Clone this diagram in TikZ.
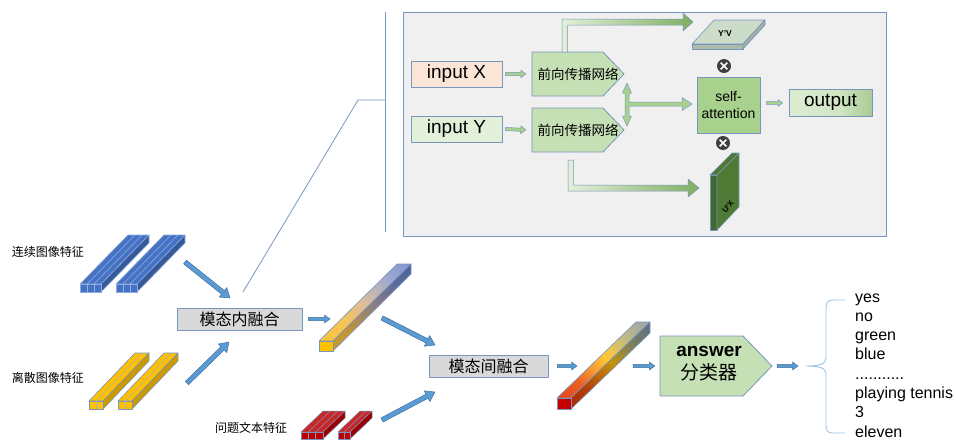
\documentclass[tikz,border=0pt]{standalone}
\usepackage{fontspec}
\setmainfont{Liberation Sans}
\newfontfamily\cjk{Noto Sans CJK SC}
\usetikzlibrary{calc}

\definecolor{edgeblue}{HTML}{7895C0}
\definecolor{panelgray}{HTML}{F0F0F0}
\definecolor{peach}{HTML}{FBE5D6}
\definecolor{palegreen}{HTML}{E2F0D9}
\definecolor{midgreen}{HTML}{C5E0B4}
\definecolor{attgreen}{HTML}{A9D18E}
\definecolor{arrowgreen}{HTML}{7FAE62}
\definecolor{arrowblue}{HTML}{5B9BD5}
\definecolor{arrowedge}{HTML}{41719C}
\definecolor{barblue}{HTML}{4472C4}
\definecolor{baryellow}{HTML}{FFC000}
\definecolor{barred}{HTML}{C00000}
\definecolor{boxgray}{HTML}{D9D9D9}
\definecolor{bracecol}{HTML}{9DC3E6}
\definecolor{slabgray}{HTML}{CBDCC8}
\definecolor{slabdark}{HTML}{4F7A35}
\definecolor{knotgray}{HTML}{3F3F3F}

% colour ramps for the fused feature bars and the output box
\pgfdeclarehorizontalshading{fuseonetop}{100bp}{rgb(0bp)=(0.98,0.76,0.18); rgb(30bp)=(0.97,0.77,0.30); rgb(50bp)=(0.87,0.74,0.62); rgb(70bp)=(0.62,0.66,0.82); rgb(100bp)=(0.40,0.52,0.80)}
\pgfdeclarehorizontalshading{fuseoneside}{100bp}{rgb(0bp)=(0.82,0.62,0.12); rgb(30bp)=(0.76,0.58,0.22); rgb(50bp)=(0.56,0.50,0.50); rgb(70bp)=(0.36,0.42,0.60); rgb(100bp)=(0.22,0.36,0.64)}
\pgfdeclarehorizontalshading{fusetwotop}{100bp}{rgb(0bp)=(0.86,0.16,0.06); rgb(30bp)=(0.92,0.38,0.14); rgb(40bp)=(0.96,0.58,0.20); rgb(52bp)=(1.0,0.79,0.20); rgb(68bp)=(0.76,0.73,0.52); rgb(100bp)=(0.45,0.56,0.80)}
\pgfdeclarehorizontalshading{fusetwoside}{100bp}{rgb(0bp)=(0.62,0.08,0.0); rgb(30bp)=(0.70,0.25,0.03); rgb(40bp)=(0.74,0.40,0.04); rgb(52bp)=(0.76,0.58,0.05); rgb(68bp)=(0.48,0.50,0.38); rgb(100bp)=(0.25,0.38,0.62)}
\pgfdeclarehorizontalshading{outshade}{100bp}{rgb(0bp)=(0.90,0.95,0.87); rgb(55bp)=(0.82,0.90,0.77); rgb(80bp)=(0.62,0.77,0.53); rgb(100bp)=(0.30,0.48,0.20)}

% a box-shaped bar: x, y (top of front face), width, height, dx, dy, columns, style prefix
\newcommand\prism[8]{%
  \begin{scope}[shift={(#1,#2)}]
    \path[#8 top] (0,0) -- (#3,0) -- ++(#5,#6) -- ++(-#3,0) -- cycle;
    \path[#8 side] (#3,0) -- ++(#5,#6) -- ++(0,#4) -- (#3,#4) -- cycle;
    \path[#8 front] (0,0) rectangle (#3,#4);
    \pgfmathtruncatemacro\prismcuts{#7-1}
    \ifnum\prismcuts>0
      \foreach \k in {1,...,\prismcuts}{
        \pgfmathsetmacro\sx{#3*\k/#7}
        \draw[#8 stripe] (\sx,0) -- ++(#5,#6);
        \draw[#8 stripe] (\sx,0) -- (\sx,#4);
      }
    \fi
  \end{scope}}

% block arrow: [style] from, to, half shaft, half head, head length
\newcommand\blockarrow[6][]{%
  \coordinate (ba-neck) at ($(#3)!#6!(#2)$);
  \path[#1] ($(#2)!#4!90:(#3)$) -- ($(ba-neck)!#4!90:(#3)$) -- ($(ba-neck)!#5!90:(#3)$)
    -- (#3) -- ($(ba-neck)!#5!-90:(#3)$) -- ($(ba-neck)!#4!-90:(#3)$)
    -- ($(#2)!#4!-90:(#3)$) -- cycle;}

\begin{document}
\begin{tikzpicture}[x=1pt,y=-1pt,line join=round,
  thinline/.style={draw=edgeblue,line width=0.8pt},
  inbox/.style={draw=edgeblue,line width=0.9pt,minimum width=91pt,minimum height=26pt,inner sep=0pt,font=\fontsize{19}{22}\selectfont},
  penta/.style={draw=edgeblue,fill=midgreen,line width=0.8pt},
  cnpanel/.style={font=\cjk\fontsize{13.5}{15}\selectfont,inner sep=0pt},
  fusebox/.style={draw=edgeblue,fill=boxgray,line width=0.9pt,minimum height=22pt,inner sep=0pt,font=\cjk\fontsize{16}{18}\selectfont},
  cnlabel/.style={font=\cjk\fontsize{12}{14}\selectfont,inner sep=0pt},
  answertext/.style={font=\fontsize{16}{19}\selectfont,anchor=base west,inner sep=0pt},
  tinybold/.style={font=\bfseries\fontsize{8.5}{10}\selectfont,inner sep=0pt},
  bluearrow/.style={fill=arrowblue,draw=arrowedge,line width=0.5pt},
  greenarrow/.style={fill=attgreen,draw=edgeblue,line width=0.5pt},
  bentarrow/.style={draw=edgeblue,line width=0.5pt,left color=palegreen,right color=arrowgreen},
  knot/.style={circle,fill=knotgray,minimum size=14pt,inner sep=0pt,
    path picture={\draw[white,line width=1.7pt]
      ($(path picture bounding box.center)+(-3.3pt,-3.3pt)$) -- ++(6.6pt,6.6pt)
      ($(path picture bounding box.center)+(-3.3pt,3.3pt)$) -- ++(6.6pt,-6.6pt);}},
  bbar top/.style={fill=barblue,draw=barblue!60!white,line width=0.6pt},
  bbar side/.style={fill=barblue!78!black,draw=barblue!60!white,line width=0.6pt},
  bbar front/.style={fill=barblue,draw=barblue!60!white,line width=0.6pt},
  bbar stripe/.style={draw=barblue!55!white,line width=0.5pt},
  ybar top/.style={fill=baryellow,draw=edgeblue,line width=0.6pt},
  ybar side/.style={fill=baryellow!80!black,draw=edgeblue,line width=0.6pt},
  ybar front/.style={fill=baryellow,draw=edgeblue,line width=0.6pt},
  ybar stripe/.style={draw=edgeblue!70!white,line width=0.5pt},
  rbar top/.style={fill=barred!85!white,draw=edgeblue,line width=0.5pt},
  rbar side/.style={fill=barred!80!black,draw=edgeblue,line width=0.5pt},
  rbar front/.style={fill=barred,draw=edgeblue,line width=0.5pt},
  rbar stripe/.style={draw=edgeblue,line width=0.5pt},
  gone top/.style={shade,shading=fuseonetop,shading angle=45,draw=edgeblue,line width=0.6pt},
  gone side/.style={shade,shading=fuseoneside,shading angle=45,draw=edgeblue,line width=0.6pt},
  gone front/.style={fill=baryellow,draw=edgeblue,line width=0.6pt},
  gone stripe/.style={draw=none},
  gtwo top/.style={shade,shading=fusetwotop,shading angle=45,draw=edgeblue,line width=0.6pt},
  gtwo side/.style={shade,shading=fusetwoside,shading angle=45,draw=edgeblue,line width=0.6pt},
  gtwo front/.style={fill=barred!90!red,draw=edgeblue,line width=0.6pt},
  gtwo stripe/.style={draw=none}]

\useasboundingbox (0,0) rectangle (956,440);

% ---------- attention panel ----------
\draw[thinline,fill=panelgray] (403,12) rectangle (886,236);
\draw[thinline] (385,12) -- (385,232);
\draw[thinline] (243,292) -- (358,100) -- (385,100);

\node[inbox,fill=peach] (inx) at (456.5,74) {input X};
\node[inbox,fill=palegreen] (iny) at (456.5,129) {input Y};

\draw[penta] (532,52) -- (603,52) -- (624,74) -- (603,96) -- (532,96) -- cycle;
\node[cnpanel,minimum width=92pt,minimum height=44pt] (ffx) at (578,74) {前向传播网络};
\draw[penta] (532,108) -- (603,108) -- (624,130) -- (603,152) -- (532,152) -- cycle;
\node[cnpanel,minimum width=92pt,minimum height=44pt] (ffy) at (578,130) {前向传播网络};

\coordinate (gxs) at ($(inx.east)+(3,0)$);
\coordinate (gxe) at ($(ffx.west)+(-6,0)$);
\blockarrow[greenarrow]{gxs}{gxe}{1.6pt}{3.8pt}{5pt}
\coordinate (gys) at ($(iny.east)+(3,0)$);
\coordinate (gye) at ($(ffy.west)+(-6,0)$);
\blockarrow[greenarrow]{gys}{gye}{1.6pt}{3.8pt}{5pt}

% joint arrow between the two branches and into self-attention
\path[greenarrow] (627,83) -- (631.5,93) -- (629,93) -- (629,102) -- (682,102) -- (682,97.5)
  -- (692,104) -- (682,110.5) -- (682,106) -- (629,106) -- (629,116) -- (631.5,116)
  -- (627,126) -- (622.5,116) -- (625,116) -- (625,93) -- (622.5,93) -- cycle;

% bent arrows to the two projections
\path[bentarrow] (562,52) -- (562,19) -- (683,19) -- (683,13) -- (693,22) -- (683,31)
  -- (683,25) -- (567.5,25) -- (567.5,52) -- cycle;
\path[bentarrow] (568,160) -- (568,191) -- (688,191) -- (688,197) -- (699,188) -- (688,179)
  -- (688,185) -- (573.5,185) -- (573.5,160) -- cycle;

% Y'V slab
\path[draw=edgeblue,fill=slabgray,line width=0.6pt] (692,44) -- (743,44) -- (765,20) -- (714,20) -- cycle;
\path[draw=edgeblue,fill=slabgray!85!black,line width=0.6pt] (692,44) -- (743,44) -- (743,49) -- (692,49) -- cycle;
\path[draw=edgeblue,fill=slabgray!80!black,line width=0.6pt] (743,44) -- (765,20) -- (765,25) -- (743,49) -- cycle;
\node[tinybold] (yv) at (725,34) {Y'V};

% U'X slab
\path[draw=edgeblue,fill=slabdark!85!black,line width=0.6pt] (710,175) rectangle (717,230);
\path[draw=edgeblue,fill=slabdark,line width=0.6pt] (710,175) -- (717,175) -- (739,153) -- (732,153) -- cycle;
\path[draw=edgeblue,fill=slabdark,line width=0.6pt] (717,175) -- (739,153) -- (739,207) -- (717,230) -- cycle;
\node[tinybold,rotate=50,font=\bfseries\fontsize{8}{9}\selectfont] (ux) at (728,207) {U'X};

\node[knot] (mulup) at (724,66) {};
\node[knot] (muldown) at (723,143) {};

\node[draw=edgeblue,fill=attgreen,line width=0.9pt,minimum width=63pt,minimum height=56pt,
  inner sep=0pt,align=center,font=\fontsize{14}{17}\selectfont] (att) at (728.5,105) {self-\\attention};
\node[draw=edgeblue,line width=0.9pt,shade,shading=outshade,minimum width=83pt,minimum height=27pt,
  inner sep=0pt,font=\fontsize{19}{22}\selectfont] (out) at (830.5,102.5) {output};
\coordinate (gos) at ($(att.east)+(6,-2)$);
\coordinate (goe) at ($(out.west)+(-6,0.5)$);
\blockarrow[greenarrow]{gos}{goe}{1.4pt}{3.4pt}{4.5pt}

% ---------- input features ----------
\node[cnlabel] (lcont) at (48,252) {连续图像特征};
\node[cnlabel] (ldisc) at (48,378) {离散图像特征};
\node[cnlabel] (lques) at (251,428) {问题文本特征};

\prism{80}{284}{21}{8}{48}{-49}{3}{bbar}
\prism{116}{284}{21}{8}{48}{-49}{3}{bbar}
\node[font=\fontsize{5}{5}\selectfont,text=black!60,inner sep=0pt] (dotsb) at (138,262) {...};

\prism{89}{401}{14}{8}{46}{-48}{2}{ybar}
\prism{118}{401}{14}{8}{46}{-48}{2}{ybar}
\node[font=\fontsize{5}{5}\selectfont,text=black!60,inner sep=0pt] (dotsy) at (142,379) {...};

\prism{301}{432}{22}{7}{22}{-21}{3}{rbar}
\prism{338}{432}{12}{7}{22}{-21}{2}{rbar}

% ---------- fusion stages ----------
\node[fusebox,minimum width=125pt] (intra) at (239.5,319) {模态内融合};
\node[fusebox,minimum width=119pt] (inter) at (488.5,366) {模态间融合};

\prism{319}{341}{14}{10}{78}{-77}{1}{gone}
\prism{557}{398}{14}{11}{79}{-76}{1}{gtwo}

\coordinate (c1s) at (185,262);   \coordinate (c1e) at (230,298);
\coordinate (d1s) at (187,383);   \coordinate (d1e) at (229,342);
\coordinate (f1s) at ($(intra.east)+(6,0)$);  \coordinate (f1e) at (330,319);
\coordinate (f2s) at (382,318);   \coordinate (f2e) at (435,345);
\coordinate (q1s) at (382,420);   \coordinate (q1e) at (435,392);
\coordinate (f3s) at ($(inter.east)+(9,0)$);  \coordinate (f3e) at (577,366);
\blockarrow[bluearrow]{c1s}{c1e}{2.3pt}{6pt}{9pt}
\blockarrow[bluearrow]{d1s}{d1e}{2.3pt}{6pt}{9pt}
\blockarrow[bluearrow]{f1s}{f1e}{1.6pt}{4pt}{5.5pt}
\blockarrow[bluearrow]{f2s}{f2e}{2.3pt}{6pt}{9pt}
\blockarrow[bluearrow]{q1s}{q1e}{2.3pt}{6pt}{9pt}
\blockarrow[bluearrow]{f3s}{f3e}{1.6pt}{4pt}{5.5pt}

% ---------- answer classifier ----------
\path[penta] (660,336) -- (743,336) -- (772,366) -- (743,396) -- (660,396) -- cycle;
\node[inner sep=0pt,minimum width=112pt,minimum height=60pt] (ans) at (716,366) {};
\node[inner sep=0pt,align=center,font=\fontsize{19}{23}\selectfont] (anstext) at (709,364)
  {\textbf{answer}\\{\cjk 分类器}};

\coordinate (f4s) at (633,366);  \coordinate (f4e) at ($(ans.west)+(-5,0)$);
\blockarrow[bluearrow]{f4s}{f4e}{1.6pt}{4pt}{5.5pt}
\coordinate (f5s) at ($(ans.east)+(5,0)$);  \coordinate (f5e) at (798,366);
\blockarrow[bluearrow]{f5s}{f5e}{1.6pt}{4pt}{5.5pt}

\draw[draw=bracecol,line width=0.9pt] (845,300) -- (834,300) .. controls (827,300) and (826,303) .. (826,309)
  -- (826,358) .. controls (826,364) and (820,366) .. (806,366)
  .. controls (820,366) and (826,368) .. (826,374)
  -- (826,425) .. controls (826,431) and (827,433) .. (834,433) -- (845,433);

\node[answertext] (a1) at (855,302) {yes};
\node[answertext] (a2) at (855,321.3) {no};
\node[answertext] (a3) at (855,340.6) {green};
\node[answertext] (a4) at (855,359.9) {blue};
\node[answertext] (a5) at (855,379.2) {...........};
\node[answertext] (a6) at (855,398.5) {playing tennis};
\node[answertext] (a7) at (855,417.8) {3};
\node[answertext] (a8) at (855,437.1) {eleven};
\end{tikzpicture}
\end{document}
